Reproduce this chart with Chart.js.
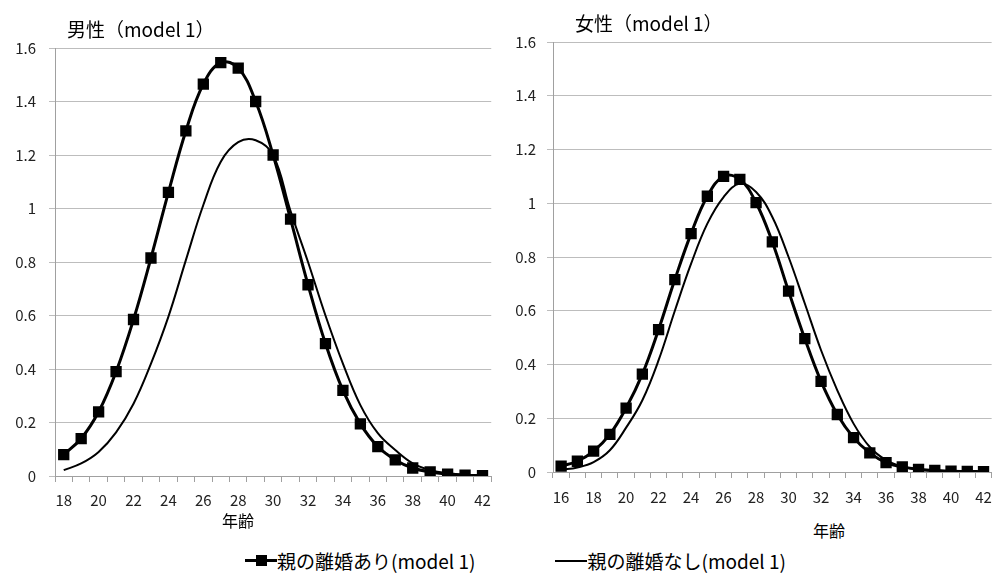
<!DOCTYPE html>
<html>
<head>
<meta charset="utf-8">
<script src="https://cdn.jsdelivr.net/npm/chart.js@4.4.1/dist/chart.umd.min.js"></script>
<style>
  body { margin: 0; background: #fff; width: 1002px; height: 576px; position: relative; overflow: hidden;
         font-family: "Noto Sans CJK JP", "Noto Sans", sans-serif; color: #000; }
  .box { position: absolute; top: 0; }
  .txt { position: absolute; white-space: nowrap; line-height: 1; }
  .ttl { font-size: 19px; }
  .axt { font-size: 16px; }
  #legend { position: absolute; left: 245px; top: 551px; font-size: 19px; line-height: 1; display: flex; gap: 80px; white-space: nowrap; }
  .item { display: inline-flex; align-items: center; }
  .ico { position: relative; display: inline-block; height: 12px; }
  .ico .ln { position: absolute; left: 0; right: 0; background: #000; }
  .ico .sq { position: absolute; width: 11px; height: 11px; background: #000; left: 50%; top: 50%; margin: -5.5px 0 0 -5.5px; }
</style>
</head>
<body>
<div class="box" style="left:0"><canvas id="chartMale" width="500" height="520"></canvas></div>
<div class="box" style="left:500px"><canvas id="chartFemale" width="502" height="516"></canvas></div>

<div class="txt ttl" style="left:67px; top:19px;">男性（model 1）</div>
<div class="txt ttl" style="left:575px; top:13px;">女性（model 1）</div>
<div class="txt axt" style="left:222px; top:512px;">年齢</div>
<div class="txt axt" style="left:813px; top:522px;">年齢</div>

<div id="legend">
  <span class="item"><span class="ico" style="width:32px"><span class="ln" style="top:4.5px;height:3px"></span><span class="sq"></span></span>親の離婚あり(model 1)</span>
  <span class="item"><span class="ico" style="width:32px"><span class="ln" style="top:5px;height:2px"></span></span>親の離婚なし(model 1)</span>
</div>

<script>
// 年齢（男性）
let agesMale = [18, 19, 20, 21, 22, 23, 24, 25, 26, 27, 28, 29, 30, 31, 32, 33, 34, 35, 36, 37, 38, 39, 40, 41, 42];
let maleDivorce = [0.08, 0.14, 0.24, 0.39, 0.585, 0.815, 1.06, 1.29, 1.465, 1.545, 1.525, 1.40, 1.20, 0.96, 0.715, 0.495, 0.32, 0.195, 0.11, 0.06, 0.03, 0.015, 0.007, 0.003, 0.001];
let maleNoDivorce = [0.022, 0.047, 0.09, 0.163, 0.27, 0.42, 0.596, 0.807, 1.013, 1.175, 1.248, 1.255, 1.20, 0.99, 0.80, 0.60, 0.42, 0.265, 0.16, 0.097, 0.047, 0.022, 0.01, 0.005, 0.002];

// 年齢（女性）
let agesFemale = [16, 17, 18, 19, 20, 21, 22, 23, 24, 25, 26, 27, 28, 29, 30, 31, 32, 33, 34, 35, 36, 37, 38, 39, 40, 41, 42];
let femaleDivorce = [0.022, 0.04, 0.078, 0.14, 0.238, 0.364, 0.53, 0.716, 0.887, 1.026, 1.10, 1.089, 1.002, 0.856, 0.673, 0.496, 0.337, 0.214, 0.128, 0.071, 0.035, 0.019, 0.01, 0.006, 0.003, 0.002, 0.001];
let femaleNoDivorce = [0.008, 0.017, 0.037, 0.081, 0.165, 0.267, 0.416, 0.60, 0.775, 0.924, 1.023, 1.073, 1.042, 0.949, 0.80, 0.627, 0.453, 0.304, 0.18, 0.093, 0.044, 0.02, 0.008, 0.004, 0.002, 0.001, 0.0005];

let yTicks = { min: 0, max: 1.6, step: 0.2 };

Chart.defaults.font.family = '"Noto Sans CJK JP", "Noto Sans", sans-serif';
Chart.defaults.color = '#222';

function makeChart(id, ages, withData, withoutData, pad, yPad, xPad) {
    const ctx = document.getElementById(id).getContext('2d');
    return new Chart(ctx, {
        type: 'line',
        data: {
            labels: ages,
            datasets: [
                {
                    label: '親の離婚あり(model 1)',
                    data: withData,
                    borderColor: '#000',
                    backgroundColor: '#000',
                    borderWidth: 3,
                    pointStyle: 'rect',
                    pointRadius: 8,
                    pointBorderWidth: 0,
                    tension: 0.4,
                },
                {
                    label: '親の離婚なし(model 1)',
                    data: withoutData,
                    borderColor: '#000',
                    borderWidth: 2,
                    pointRadius: 0,
                    tension: 0.4,
                },
            ],
        },
        options: {
            responsive: false,
            animation: false,
            devicePixelRatio: 1,
            layout: { padding: pad },
            plugins: { legend: { display: false }, tooltip: { enabled: false } },
            scales: {
                x: {
                    offset: true,
                    grid: { offset: true, drawOnChartArea: false, drawTicks: true, tickLength: 6, color: '#a0a0a0' },
                    border: { color: '#a0a0a0' },
                    ticks: {
                        autoSkip: false,
                        maxRotation: 0,
                        padding: xPad,
                        font: { size: 15 },
                        callback: function(val) {
                            let a = this.getLabelForValue(val);
                            return a % 2 === 0 ? a : '';
                        }
                    },
                    afterFit: function(scale) { scale.height = 44; }
                },
                y: {
                    min: yTicks.min,
                    max: yTicks.max,
                    grid: { color: '#bdbdbd', tickLength: 6 },
                    border: { color: '#a0a0a0' },
                    ticks: {
                        stepSize: yTicks.step,
                        padding: yPad,
                        font: { size: 15 },
                        callback: function(v) { return String(Number(v.toFixed(1))); }
                    },
                    afterFit: function(scale) { scale.width = pad.axisW; }
                }
            }
        }
    });
}

let Chart1 = makeChart('chartMale', agesMale, maleDivorce, maleNoDivorce,
    { top: 48, right: 5, left: 0, bottom: 0, axisW: 55 }, 13, 9);
let Chart2 = makeChart('chartFemale', agesFemale, femaleDivorce, femaleNoDivorce,
    { top: 42, right: 4, left: 0, bottom: 0, axisW: 53 }, 11, 10);
</script>
</body>
</html>
